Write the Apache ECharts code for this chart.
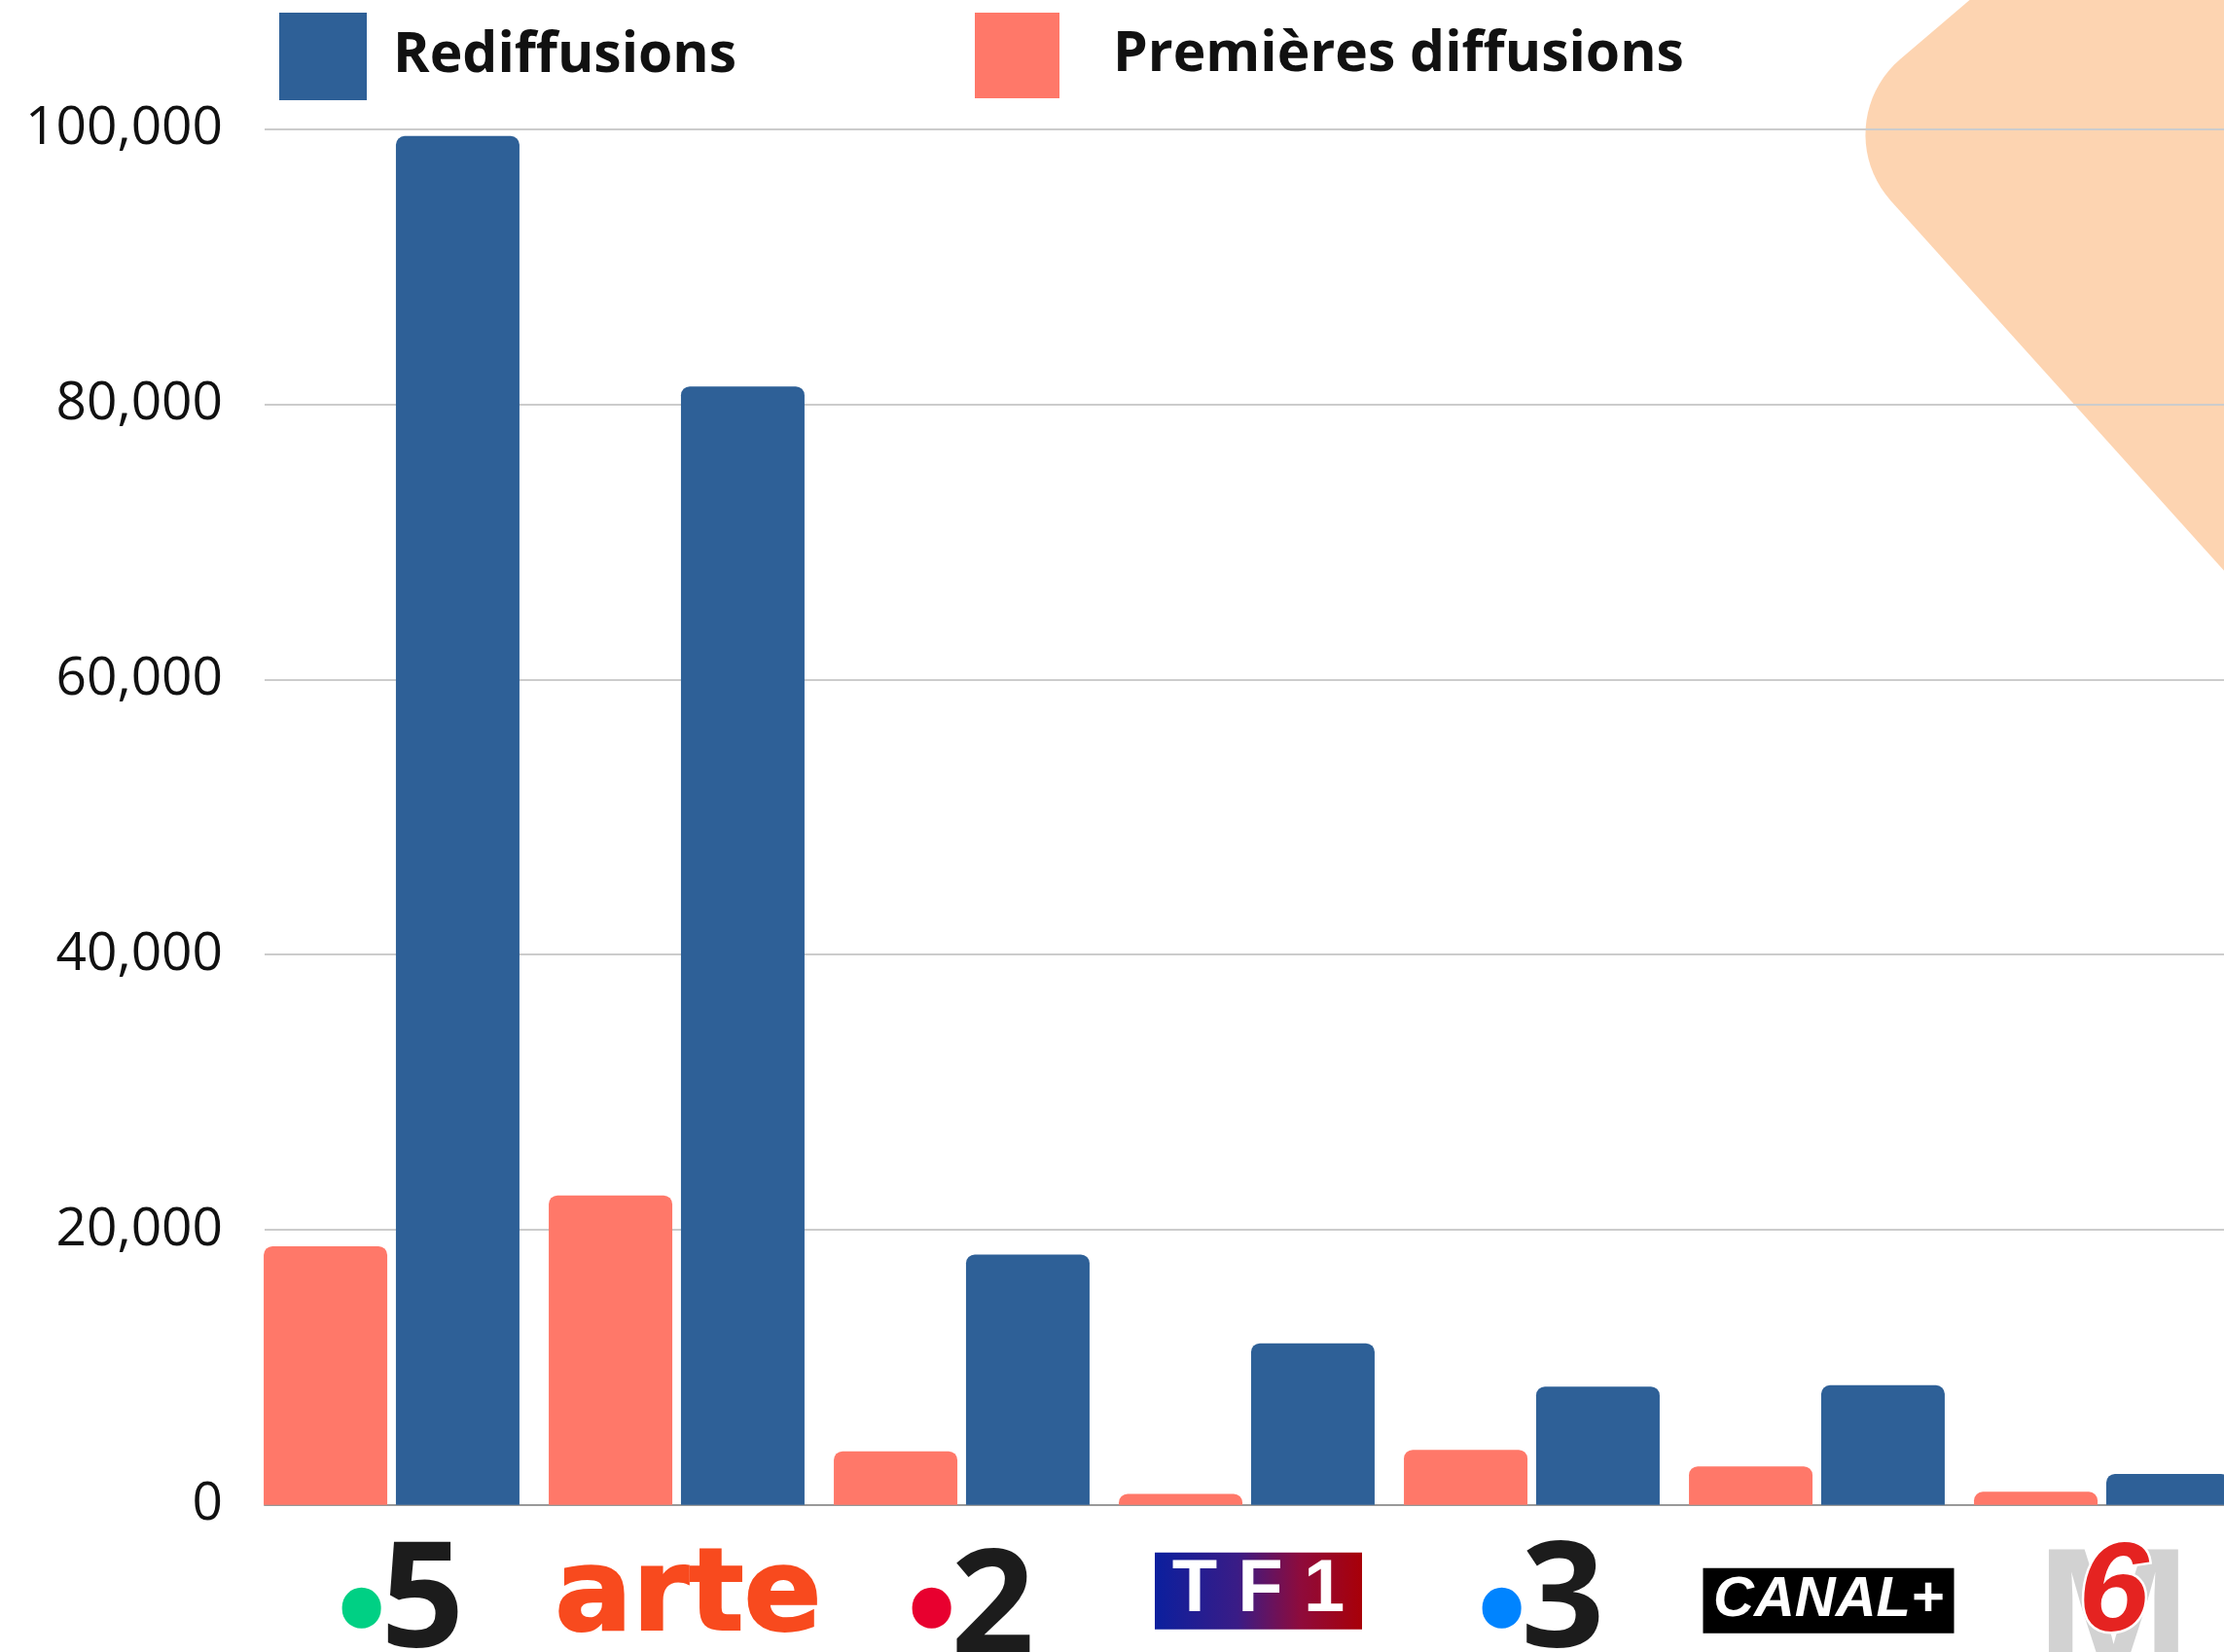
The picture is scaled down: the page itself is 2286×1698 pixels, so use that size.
<!DOCTYPE html>
<html><head><meta charset="utf-8">
<script src="https://cdn.jsdelivr.net/npm/echarts@6/dist/echarts.min.js"></script>
<style>html,body{margin:0;padding:0;background:#fff}#c{width:2286px;height:1698px}</style>
</head><body><div id="c"></div>
<script>
// ---- data ----
const categories = ['France 5', 'Arte', 'France 2', 'TF1', 'France 3', 'Canal+', 'M6'];
const rediffusions = [99500, 81300, 18200, 11750, 8600, 8700, 2250];
const premieresDiffusions = [18800, 22500, 3900, 800, 4000, 2800, 950];
const yTicks = [0, 20000, 40000, 60000, 80000, 100000];
const seriesNames = ['Rediffusions', 'Premières diffusions'];

// ---- styling ----
const BLUE = '#2E6097', PINK = '#FF7869';
const TOP = 132.7, BOTTOM = 1698 - 1546.8;
const logoText = {
  'France 5': '{dot5|}{num|5}',
  'Arte': '{arte|arte}',
  'France 2': '{dot2|}{num2|2}',
  'TF1': '{tf1|T F 1}',
  'France 3': '{dot3|}{num|3}',
  'Canal+': '{canal|CANAL+}',
  'M6': '{m|M}'
};
const overlayText = { 'M6': '{six|6}' };
const dot = c => ({ width: 40, height: 42, borderRadius: 21, backgroundColor: c, lineHeight: 82, verticalAlign: 'bottom' });
const digit = p => ({ fontFamily: 'Open Sans', fontWeight: 700, fontSize: 150, color: '#1c1c1c', lineHeight: 82, verticalAlign: 'middle', padding: [p, 0, 0, 0] });

// decorative background shape (rounded corner built as a polygon)
function decoShape() {
  const pts = [[2048, -20], [1953, 61]];
  const p0 = [1953, 61], c1 = [1909.6, 98.4], c2 = [1905.3, 163.8], p3 = [1943.6, 206.4];
  for (let i = 1; i <= 20; i++) {
    const t = i / 20, u = 1 - t;
    pts.push([u*u*u*p0[0] + 3*u*u*t*c1[0] + 3*u*t*t*c2[0] + t*t*t*p3[0],
              u*u*u*p0[1] + 3*u*u*t*c1[1] + 3*u*t*t*c2[1] + t*t*t*p3[1]]);
  }
  pts.push([2300, 602], [2300, -20]);
  return pts;
}

const chart = echarts.init(document.getElementById('c'), null, { renderer: 'canvas', width: 2286, height: 1698 });
const legendText = (pl) => ({ fontFamily: 'Open Sans', fontWeight: 700, fontSize: 57, color: '#111', padding: [0, 0, 0, pl] });

chart.setOption({
  animation: false,
  backgroundColor: '#fff',
  graphic: [{
    type: 'polygon', z: -10, silent: true,
    shape: { points: decoShape() },
    style: { fill: '#FDD4B1' }
  }],
  legend: [
    { left: 287, top: 13, padding: 0, data: [seriesNames[0]], icon: 'rect', itemWidth: 90, itemHeight: 90, selectedMode: false, textStyle: legendText(22) },
    { left: 1002, top: 13, padding: 0, data: [seriesNames[1]], icon: 'rect', itemWidth: 87, itemHeight: 88, selectedMode: false, textStyle: legendText(50) }
  ],
  grid: [
    { left: 272, right: 0, top: TOP, bottom: BOTTOM, outerBoundsMode: 'none', containLabel: false },
    { left: 256, width: 293 * categories.length, top: TOP, bottom: BOTTOM, outerBoundsMode: 'none', containLabel: false },
    { left: 256, width: 293 * categories.length, top: TOP, bottom: BOTTOM, outerBoundsMode: 'none', containLabel: false }
  ],
  xAxis: [
    { gridIndex: 0, type: 'category', data: categories, axisLine: { show: true, lineStyle: { color: '#999', width: 2 } }, axisTick: { show: false }, axisLabel: { show: false }, splitLine: { show: false } },
    { gridIndex: 1, type: 'category', data: categories, axisLine: { show: false }, axisTick: { show: false }, splitLine: { show: false },
      axisLabel: {
        interval: 0, margin: 45, padding: [0, 0, 0, 24],
        formatter: v => logoText[v],
        rich: {
          dot5: dot('#00D084'), dot2: dot('#E8002F'), dot3: dot('#0084FF'),
          num: digit(34), num2: digit(48),
          arte: { fontFamily: 'DejaVu Sans', fontWeight: 'bold', fontSize: 118, color: '#F84A1E', textBorderColor: '#F84A1E', textBorderWidth: 2, lineHeight: 105, verticalAlign: 'middle' },
          tf1: { fontFamily: 'Liberation Sans', fontWeight: 'bold', fontSize: 76, color: '#fff', width: 213, height: 79, align: 'center', lineHeight: 87, verticalAlign: 'middle',
            backgroundColor: new echarts.graphic.LinearGradient(0, 0, 1, 0, [
              { offset: 0, color: '#0B1F9E' }, { offset: 0.4, color: '#3A1C86' }, { offset: 0.7, color: '#8E0B3C' }, { offset: 1, color: '#A80008' }]) },
          canal: { fontFamily: 'Liberation Sans', fontWeight: 'bold', fontStyle: 'italic', fontSize: 58, color: '#fff', width: 258, height: 67, align: 'center', backgroundColor: '#000', lineHeight: 107, verticalAlign: 'middle' },
          m: { fontFamily: 'Liberation Sans', fontWeight: 'bold', fontSize: 190, color: '#D2D2D2', lineHeight: 157, verticalAlign: 'middle' }
        }
      } },
    { gridIndex: 2, type: 'category', data: categories, axisLine: { show: false }, axisTick: { show: false }, splitLine: { show: false },
      axisLabel: {
        interval: 0, margin: 45, padding: [0, 0, 0, 24],
        formatter: v => overlayText[v] || '',
        rich: {
          six: { fontFamily: 'Liberation Sans', fontWeight: 'bold', fontStyle: 'italic', fontSize: 130, color: '#E52321', textBorderColor: '#fff', textBorderWidth: 5, lineHeight: 97, verticalAlign: 'middle' }
        }
      } }
  ],
  yAxis: [
    { gridIndex: 0, type: 'value', min: yTicks[0], max: yTicks[yTicks.length - 1], interval: yTicks[1] - yTicks[0],
      axisLine: { show: false }, axisTick: { show: false },
      axisLabel: { margin: 43, fontFamily: 'Open Sans', fontSize: 55, color: '#111', formatter: v => v.toLocaleString('en-US') },
      splitLine: { show: true, lineStyle: { color: '#CCCCCC', width: 2 } } },
    { gridIndex: 1, type: 'value', min: yTicks[0], max: yTicks[yTicks.length - 1], show: false, splitLine: { show: false } },
    { gridIndex: 2, type: 'value', min: yTicks[0], max: yTicks[yTicks.length - 1], show: false, splitLine: { show: false } }
  ],
  series: [
    { name: seriesNames[1], type: 'bar', xAxisIndex: 1, yAxisIndex: 1, data: premieresDiffusions, barWidth: 127, barGap: '7%',
      itemStyle: { color: PINK, borderRadius: [9, 9, 0, 0] }, emphasis: { disabled: true } },
    { name: seriesNames[0], type: 'bar', xAxisIndex: 1, yAxisIndex: 1, data: rediffusions, barWidth: 127, barGap: '7%',
      itemStyle: { color: BLUE, borderRadius: [9, 9, 0, 0] }, emphasis: { disabled: true } }
  ]
});
</script></body></html>
